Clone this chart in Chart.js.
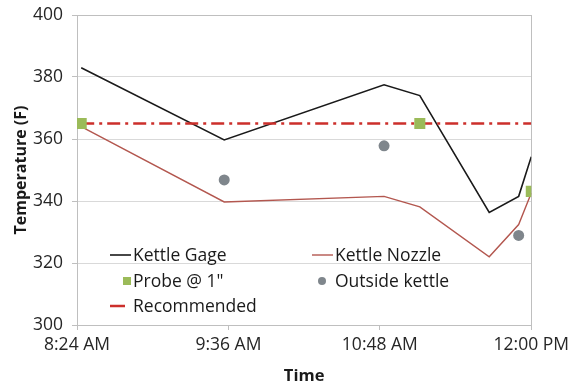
<!DOCTYPE html>
<html>
<head>
<meta charset="utf-8">
<script src="https://cdn.jsdelivr.net/npm/chart.js@4/dist/chart.umd.min.js"></script>
<style>
  html, body { margin: 0; padding: 0; background: #fff; }
  canvas { display: block; }
</style>
</head>
<body>
<canvas id="c" width="574" height="386"></canvas>
<script>
// Readings, time in minutes after midnight
const readTimes    = [506, 574, 650, 667, 700, 714, 720];
const kettleGage   = [383, 359.7, 377.5, 374, 336.3, 341.5, 354.3];
const kettleNozzle = [364, 339.7, 341.5, 338.1, 322, 332.4, 342.6];
const probeTimes   = [506, 667, 720];
const probe        = [365, 365, 343.1];
const outsideTimes = [574, 650, 714];
const outside      = [346.8, 357.8, 328.9];
const recTimes     = [506, 720];
const recommended  = [365, 365];
const xTicks       = [504, 576, 648, 720];
const yTicks       = [300, 320, 340, 360, 380, 400];

const pts = (xs, ys) => xs.map((x, i) => ({ x, y: ys[i] }));

function clock(m) {
  const h = Math.floor(m / 60), mm = Math.round(m % 60);
  const ap = h >= 12 ? 'PM' : 'AM';
  const h12 = h % 12 || 12;
  return h12 + ':' + String(mm).padStart(2, '0') + ' ' + ap;
}

const FONT = "'Open Sans', 'Liberation Sans', sans-serif";

// Frame around the plot area
const frame = {
  id: 'frame',
  beforeDatasetsDraw(chart) {
    const { ctx, chartArea: a } = chart;
    ctx.save();
    ctx.strokeStyle = '#bfbfbf';
    ctx.lineWidth = 1;
    ctx.strokeRect(Math.round(a.left) + 0.5, Math.round(a.top) + 0.5,
                   Math.round(a.right - a.left), Math.round(a.bottom - a.top));
    ctx.restore();
  }
};

// Two-column legend drawn inside the plot area
const insideLegend = {
  id: 'insideLegend',
  afterDatasetsDraw(chart) {
    const { ctx } = chart;
    const ds = chart.data.datasets;
    const cols = [110, 312];
    const rows = [255, 281, 306];
    const textX = [133, 335];
    ctx.save();
    ctx.font = '17.5px ' + FONT;
    ctx.textBaseline = 'middle';
    ctx.fillStyle = '#1a1a1a';
    ds.forEach((d, i) => {
      const c = i % 2, r = Math.floor(i / 2);
      const x = cols[c], y = rows[r];
      if (d.showLine) {
        ctx.strokeStyle = d.borderColor;
        ctx.lineWidth = d.legendWidth || d.borderWidth;
        ctx.beginPath();
        ctx.moveTo(x, y);
        ctx.lineTo(x + (d.legendLen || 21), y);
        ctx.stroke();
      } else if (d.pointStyle === 'rect') {
        ctx.fillStyle = d.pointBackgroundColor;
        ctx.fillRect(x + 13, y - 4, 8, 8);
      } else {
        ctx.fillStyle = d.pointBackgroundColor;
        ctx.beginPath();
        ctx.arc(x + 10, y, 4, 0, Math.PI * 2);
        ctx.fill();
      }
      ctx.fillStyle = '#1a1a1a';
      ctx.fillText(d.label, textX[c], y + 1);
    });
    ctx.restore();
  }
};

new Chart(document.getElementById('c'), {
  type: 'scatter',
  data: {
    datasets: [
      { label: 'Kettle Gage', data: pts(readTimes, kettleGage), showLine: true,
        borderColor: '#1a1a1a', borderWidth: 1.6, pointRadius: 0, order: 3 },
      { label: 'Kettle Nozzle', data: pts(readTimes, kettleNozzle), showLine: true,
        borderColor: '#b3574f', borderWidth: 1.4, pointRadius: 0, order: 3 },
      { label: 'Probe @ 1"', data: pts(probeTimes, probe), showLine: false,
        pointStyle: 'rect', pointRadius: 7.8, pointBackgroundColor: '#9bbb59',
        pointBorderWidth: 0, borderColor: '#9bbb59', order: 0 },
      { label: 'Outside kettle', data: pts(outsideTimes, outside), showLine: false,
        pointStyle: 'circle', pointRadius: 5.5, pointBackgroundColor: '#7f868c',
        pointBorderWidth: 0, borderColor: '#7f868c', order: 0 },
      { label: 'Recommended', data: pts(recTimes, recommended), showLine: true,
        borderColor: '#cc2f2b', borderWidth: 2.6, borderDash: [13, 5, 3, 5],
        pointRadius: 0, order: 2, legendLen: 15, legendWidth: 2.5 }
    ]
  },
  options: {
    responsive: false,
    animation: false,
    devicePixelRatio: 1,
    layout: { padding: { top: 15, right: 42, left: 0, bottom: 0 } },
    plugins: { legend: { display: false }, tooltip: { enabled: false } },
    scales: {
      x: {
        type: 'linear', min: 504, max: 720,
        afterBuildTicks(s) { s.ticks = xTicks.map(v => ({ value: v })); },
        afterFit(s) { s.height = 61; },
        ticks: { callback: v => clock(v), color: '#262626', maxRotation: 0,
                 font: { family: FONT, size: 17.5 }, padding: 5 },
        grid: { drawOnChartArea: false, drawTicks: true, tickLength: 5, color: '#bfbfbf' },
        border: { color: '#bfbfbf' },
        title: { display: true, text: 'Time', color: '#1a1a1a', padding: 0,
                 font: { family: FONT, size: 16.5, weight: 'bold' } }
      },
      y: {
        min: 300, max: 400,
        afterBuildTicks(s) { s.ticks = yTicks.map(v => ({ value: v })); },
        afterFit(s) { s.width = 77; s.paddingTop = 0; s.paddingBottom = 0; },
        ticks: { color: '#262626', font: { family: FONT, size: 17.5 }, padding: 9 },
        grid: { color: '#d9d9d9', tickLength: 5, tickColor: '#bfbfbf' },
        border: { color: '#bfbfbf' },
        title: { display: true, text: 'Temperature (F)', color: '#1a1a1a', padding: 12,
                 font: { family: FONT, size: 16, weight: 'bold' } }
      }
    }
  },
  plugins: [frame, insideLegend]
});
</script>
</body>
</html>
